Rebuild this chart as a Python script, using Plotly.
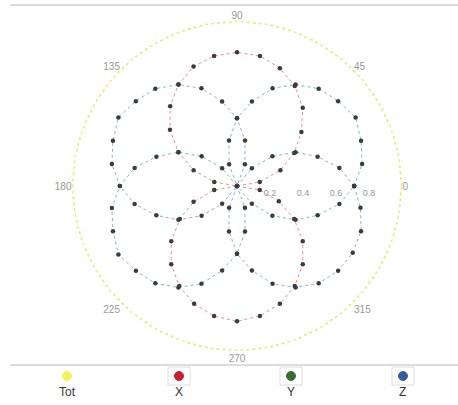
import plotly.graph_objects as go

theta = list(range(0, 361, 10))

tot = [1.0] * 37

x_vals = [0.00, 0.14, 0.28, 0.40, 0.51, 0.62, 0.70, 0.76, 0.80, 0.81,
          0.80, 0.77, 0.71, 0.63, 0.53, 0.41, 0.28, 0.14, 0.00,
          0.14, 0.28, 0.40, 0.52, 0.62, 0.70, 0.76, 0.80, 0.82,
          0.80, 0.76, 0.70, 0.62, 0.52, 0.40, 0.27, 0.14, 0.00]

y_vals = [0.71, 0.77, 0.80, 0.83, 0.80, 0.77, 0.71, 0.63, 0.52, 0.41,
          0.28, 0.14, 0.00, 0.14, 0.28, 0.41, 0.52, 0.63, 0.71,
          0.77, 0.80, 0.83, 0.80, 0.77, 0.71, 0.63, 0.52, 0.41,
          0.28, 0.14, 0.00, 0.14, 0.28, 0.41, 0.52, 0.63, 0.71]

z_vals = [0.71, 0.63, 0.52, 0.41, 0.28, 0.14, 0.00, 0.14, 0.28, 0.41,
          0.52, 0.63, 0.71, 0.77, 0.80, 0.83, 0.80, 0.77, 0.71,
          0.63, 0.52, 0.41, 0.28, 0.14, 0.00, 0.14, 0.28, 0.41,
          0.52, 0.63, 0.71, 0.77, 0.80, 0.81, 0.80, 0.76, 0.71]

series_names = ["Tot", "X", "Y", "Z"]
legend_colors = ["#f2f25a", "#c8202c", "#3d6b32", "#3b5c9c"]
line_colors = ["rgba(225,225,90,0.75)", "rgba(225,90,100,0.7)",
               "rgba(70,160,150,0.7)", "rgba(90,140,205,0.7)"]

angular_ticks = [0, 45, 90, 135, 180, 225, 270, 315]
radial_ticks = [0.2, 0.4, 0.6, 0.8]

# ---- figure geometry ----
W, H = 458, 405
ML, MR, MT, MB = 72, 56, 21, 54
PW, PH = W - ML - MR, H - MT - MB


def px(xp, yp):
    return (xp - ML) / PW, (H - MB - yp) / PH


fig = go.Figure()

data = [tot, x_vals, y_vals, z_vals]
for i, (name, r) in enumerate(zip(series_names, data)):
    if name == "Tot":
        fig.add_trace(go.Scatterpolar(
            r=r, theta=theta, mode="lines", name=name,
            line=dict(color=line_colors[i], width=2.5, dash="dot"),
            showlegend=False))
    else:
        fig.add_trace(go.Scatterpolar(
            r=r, theta=theta, mode="lines+markers", name=name,
            line=dict(color=line_colors[i], width=1, dash="dot"),
            marker=dict(color="#3c3c3c", size=4.5),
            showlegend=False))

fig.update_layout(
    width=W, height=H,
    margin=dict(l=ML, r=MR, t=MT, b=MB),
    paper_bgcolor="white",
    plot_bgcolor="white",
    font=dict(family="Liberation Sans, Arial, sans-serif", size=9, color="#888"),
    polar=dict(
        bgcolor="white",
        domain=dict(x=[0, 1], y=[0, 1]),
        radialaxis=dict(range=[0, 1], angle=0, tickangle=0,
                        tickvals=radial_ticks,
                        ticktext=[str(v) for v in radial_ticks],
                        showline=False, showgrid=False, ticks="",
                        tickfont=dict(size=9, color="#999")),
        angularaxis=dict(tickvals=angular_ticks,
                         ticktext=[str(v) for v in angular_ticks],
                         showline=False, showgrid=False, ticks="",
                         direction="counterclockwise", rotation=0,
                         tickfont=dict(size=10, color="#999")),
    ),
)

# ---- frame lines ----
x0, y0 = px(10, 5)
x1, _ = px(458, 5)
fig.add_shape(type="line", xref="paper", yref="paper", x0=x0, x1=x1, y0=y0, y1=y0,
              line=dict(color="#d0d0d0", width=1.5))
_, yb = px(10, 365)
fig.add_shape(type="line", xref="paper", yref="paper", x0=x0, x1=x1, y0=yb, y1=yb,
              line=dict(color="#d0d0d0", width=1.5))

# ---- custom legend (marker above label) ----
leg_x0, leg_step = 67, 112
for i, name in enumerate(series_names):
    cx = leg_x0 + i * leg_step
    if name != "Tot":
        bx0, by0 = px(cx - 11, 367)
        bx1, by1 = px(cx + 11, 385)
        fig.add_shape(type="rect", xref="paper", yref="paper",
                      x0=bx0, x1=bx1, y0=by1, y1=by0,
                      line=dict(color="#dddddd", width=1))
    mx0, my0 = px(cx - 4.5, 371.5)
    mx1, my1 = px(cx + 4.5, 380.5)
    fig.add_shape(type="circle", xref="paper", yref="paper",
                  x0=mx0, x1=mx1, y0=my1, y1=my0,
                  fillcolor=legend_colors[i], line=dict(color=legend_colors[i], width=1))
    tx, ty = px(cx, 392)
    fig.add_annotation(xref="paper", yref="paper", x=tx, y=ty, text=name,
                       showarrow=False, xanchor="center", yanchor="middle",
                       font=dict(size=12, color="#333",
                                 family="Liberation Sans, Arial, sans-serif"))

fig.write_html("out.html",
               config={"displayModeBar": False},
               post_script="document.body.style.margin='0';document.body.style.overflow='hidden';")
